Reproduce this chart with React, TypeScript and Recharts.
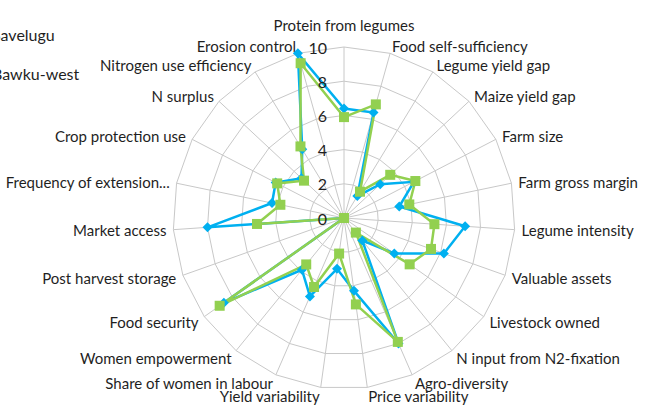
import React from 'react';
import {
  RadarChart,
  Radar,
  PolarGrid,
  PolarAngleAxis,
  PolarRadiusAxis,
} from 'recharts';

const categories = [
  'Protein from legumes',
  'Food self-sufficiency',
  'Legume yield gap',
  'Maize yield gap',
  'Farm size',
  'Farm gross margin',
  'Legume intensity',
  'Valuable assets',
  'Livestock owned',
  'N input from N2-fixation',
  'Agro-diversity',
  'Price variability',
  'Yield variability',
  'Share of women in labour',
  'Women empowerment',
  'Food security',
  'Post harvest storage',
  'Market access',
  'Frequency of extension...',
  'Crop protection use',
  'N surplus',
  'Nitrogen use efficiency',
  'Erosion control',
];

const savelugu = [6.4, 6.4, 1.5, 2.9, 4.6, 3.3, 7.1, 6.2, 3.6, 1.7, 8.0, 4.3, 3.0, 5.0, 3.9, 8.6, 0, 8.0, 4.3, 4.5, 3.4, 4.7, 10];
const bawkuWest = [5.9, 6.9, 1.8, 3.7, 4.7, 3.9, 5.3, 5.4, 4.7, 1.1, 7.9, 5.1, 2.1, 4.4, 3.5, 8.9, 0, 5.1, 3.8, 4.4, 3.2, 4.9, 9.4];
const radiusTicks = [0, 2, 4, 6, 8, 10];

const BLUE = '#00B0F0';
const GREEN = '#92D050';
const FONT = 'Lato, "Liberation Sans", sans-serif';

const CX = 344;
const CY = 218;
const OUTER = 171;

const data = categories.map((name, i) => ({
  indicator: name,
  savelugu: savelugu[i],
  bawku: bawkuWest[i],
}));

// labels sit beside each spoke end, like Excel places them
const AngleTick = (props: any) => {
  const { payload, index } = props;
  const t = (index * 2 * Math.PI) / categories.length;
  const s = Math.sin(t);
  const c = Math.cos(t);
  const vx = CX + OUTER * s;
  const vy = CY - OUTER * c;
  let anchor: 'start' | 'middle' | 'end' = 'middle';
  let x = vx;
  let y = vy - (c < 0 ? 9 : 8) * c;
  if (Math.abs(s) < 0.01) {
    y = vy - 22;
  } else if (s > 0) {
    anchor = 'start';
    x = vx + 7 * s;
  } else {
    anchor = 'end';
    x = vx + 7 * s;
  }
  return (
    <text x={x} y={y} textAnchor={anchor} dominantBaseline="central" fill="#1f1f1f" fontSize={15} fontFamily={FONT}>
      {payload.value}
    </text>
  );
};

const RadiusTick = (props: any) => {
  const { x, y, payload } = props;
  return (
    <text x={x - 17} y={y} textAnchor="end" dominantBaseline="central" fill="#1f1f1f" fontSize={16} fontFamily={FONT}>
      {payload.value}
    </text>
  );
};

const diamondDot = (p: any) => (
  <path
    key={`sv-${p.index}`}
    d={`M${p.cx},${p.cy - 5}L${p.cx + 5},${p.cy}L${p.cx},${p.cy + 5}L${p.cx - 5},${p.cy}Z`}
    fill={BLUE}
  />
);

const squareDot = (p: any) => (
  <rect key={`bw-${p.index}`} x={p.cx - 5} y={p.cy - 5} width={10} height={10} fill={GREEN} />
);

const legendItems = [
  { name: 'Savelugu', color: BLUE, shape: 'diamond' },
  { name: 'Bawku-west', color: GREEN, shape: 'square' },
];

export default function App() {
  return (
    <div style={{ position: 'relative', width: 645, height: 411, background: '#fff', overflow: 'hidden' }}>
      <style>{'body{margin:0}'}</style>
      <RadarChart
        width={645}
        height={411}
        data={data}
        cx={CX}
        cy={CY}
        outerRadius={OUTER}
        margin={{ top: 0, right: 0, bottom: 0, left: 0 }}
      >
        <PolarGrid gridType="polygon" stroke="#c8c8c8" strokeWidth={1} />
        <PolarAngleAxis dataKey="indicator" tick={<AngleTick />} tickLine={false} axisLine={false} />
        <PolarRadiusAxis
          angle={90}
          domain={[0, 10]}
          ticks={radiusTicks}
          axisLine={false}
          tickLine={false}
          tick={<RadiusTick />}
        />
        <Radar
          name="Savelugu"
          dataKey="savelugu"
          stroke={BLUE}
          strokeWidth={2.5}
          fill="none"
          fillOpacity={0}
          dot={diamondDot}
          isAnimationActive={false}
        />
        <Radar
          name="Bawku-west"
          dataKey="bawku"
          stroke={GREEN}
          strokeWidth={2.5}
          fill="none"
          fillOpacity={0}
          dot={squareDot}
          isAnimationActive={false}
        />
      </RadarChart>
      <div style={{ position: 'absolute', left: -45, top: 15, fontFamily: FONT, fontSize: 16, color: '#1f1f1f' }}>
        {legendItems.map((it) => (
          <div key={it.name} style={{ display: 'flex', alignItems: 'center', height: 39 }}>
            <svg width={30} height={12} style={{ marginRight: 7 }}>
              <line x1={0} y1={6} x2={30} y2={6} stroke={it.color} strokeWidth={2.5} />
              {it.shape === 'diamond' ? (
                <path d="M15,1L20,6L15,11L10,6Z" fill={it.color} />
              ) : (
                <rect x={10} y={1} width={10} height={10} fill={it.color} />
              )}
            </svg>
            <span>{it.name}</span>
          </div>
        ))}
      </div>
    </div>
  );
}
